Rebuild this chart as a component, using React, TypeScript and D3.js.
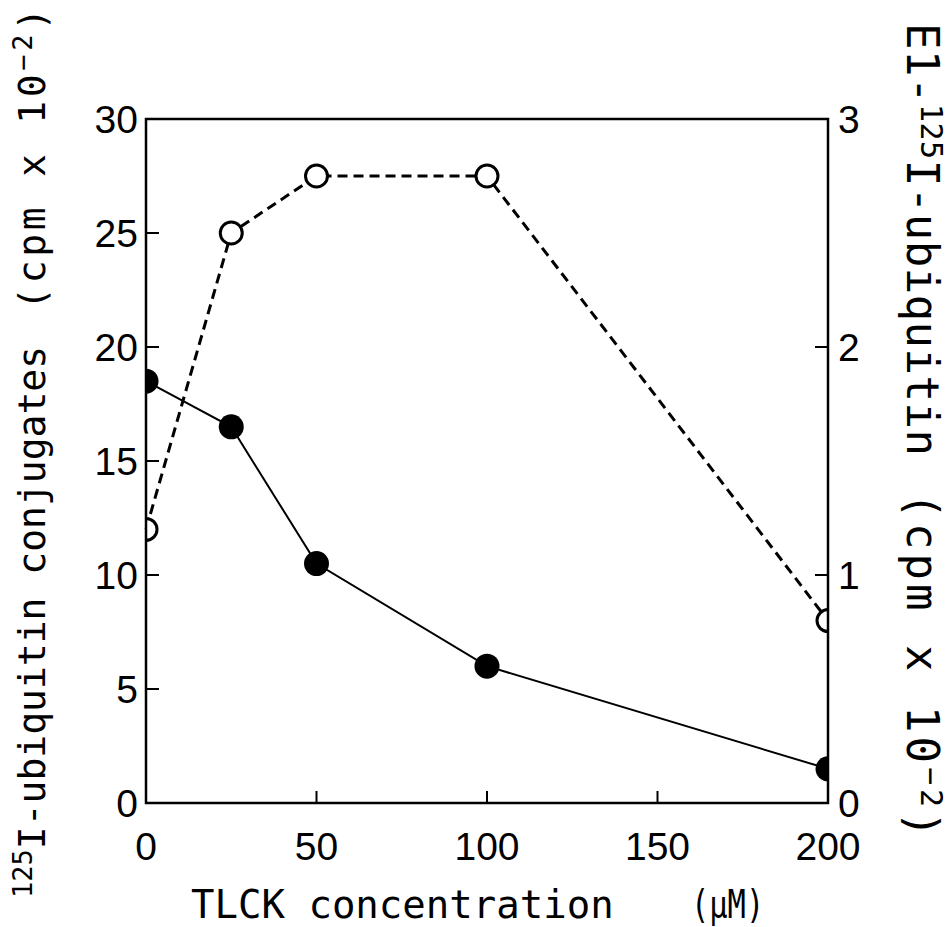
import React from "react";
import * as d3 from "d3";

const concentrations = [0, 25, 50, 100, 200];
const conjugates = [18.5, 16.5, 10.5, 6, 1.5];
const e1Ubiquitin = [1.2, 2.5, 2.75, 2.75, 0.8];
const xTicks = [0, 50, 100, 150, 200];
const leftTicks = [0, 5, 10, 15, 20, 25, 30];
const rightTicks = [0, 1, 2, 3];

const W = 951;
const H = 927;
const M = { left: 146, right: 828, top: 119, bottom: 803 };

export default function App() {
  const x = d3.scaleLinear().domain([0, 200]).range([M.left, M.right]);
  const yL = d3.scaleLinear().domain([0, 30]).range([M.bottom, M.top]);
  const yR = d3.scaleLinear().domain([0, 3]).range([M.bottom, M.top]);

  const closedPts = concentrations.map((c, i) => [x(c), yL(conjugates[i])] as [number, number]);
  const openPts = concentrations.map((c, i) => [x(c), yR(e1Ubiquitin[i])] as [number, number]);
  const line = d3.line();

  const tickFont = "'Liberation Sans', Arial, sans-serif";
  const monoFont = "'DejaVu Sans Mono', monospace";
  const pre = { whiteSpace: "pre" } as React.CSSProperties;
  const ls = (v: number) => ({ letterSpacing: `${v}px` } as React.CSSProperties);

  return (
    <svg width={W} height={H} style={{ position: "absolute", left: 0, top: 0, background: "#fff" }}>
      <defs>
        <clipPath id="plotClip">
          <rect x={M.left} y={M.top - 20} width={M.right - M.left} height={M.bottom - M.top + 40} />
        </clipPath>
      </defs>
      <rect x={0} y={0} width={W} height={H} fill="#fff" />

      {/* lines */}
      <path d={line(closedPts) || ""} fill="none" stroke="#000" strokeWidth={2} />
      <path d={line(openPts) || ""} fill="none" stroke="#000" strokeWidth={3} strokeDasharray="10 6" />

      {/* markers */}
      <g clipPath="url(#plotClip)">
        {closedPts.map((p, i) => (
          <circle key={"c" + i} cx={p[0]} cy={p[1]} r={12.5} fill="#000" />
        ))}
        {openPts.map((p, i) => (
          <circle key={"o" + i} cx={p[0]} cy={p[1]} r={11} fill="#fff" stroke="#000" strokeWidth={3} />
        ))}
      </g>

      {/* frame */}
      <rect x={M.left} y={M.top} width={M.right - M.left} height={M.bottom - M.top} fill="none" stroke="#000" strokeWidth={2.5} />

      {/* x ticks */}
      {xTicks.map((t) => (
        <g key={"x" + t}>
          <line x1={x(t)} x2={x(t)} y1={M.bottom} y2={M.bottom - 12} stroke="#000" strokeWidth={2} />
          <text x={x(t)} y={860} textAnchor="middle" fontFamily={tickFont} fontSize={39} fill="#000">
            {t}
          </text>
        </g>
      ))}

      {/* left ticks */}
      {leftTicks.map((t) => (
        <g key={"l" + t}>
          <line x1={M.left} x2={M.left + 13} y1={yL(t)} y2={yL(t)} stroke="#000" strokeWidth={2} />
          <text x={138} y={yL(t) + 14} textAnchor="end" fontFamily={tickFont} fontSize={39} fill="#000">
            {t}
          </text>
        </g>
      ))}

      {/* right ticks */}
      {rightTicks.map((t) => (
        <g key={"r" + t}>
          <line x1={M.right} x2={M.right - 13} y1={yR(t)} y2={yR(t)} stroke="#000" strokeWidth={2} />
          <text x={838} y={yR(t) + 14} textAnchor="start" fontFamily={tickFont} fontSize={39} fill="#000">
            {t}
          </text>
        </g>
      ))}

      {/* x title */}
      <text x={191} y={918} fontFamily={monoFont} fontSize={39} fill="#000" style={pre}>
        {"TLCK concentration"}
      </text>
      <text transform="translate(691,918) scale(0.78,1)" fontFamily={monoFont} fontSize={39} fill="#000">
        {"(\u03BCM)"}
      </text>

      {/* left title */}
      <text
        transform="translate(45,898) rotate(-90)"
        fontFamily={monoFont}
        fontSize={38}
        fill="#000"
        style={pre}
      >
        <tspan fontSize={27} dy={-13}>125</tspan>
        <tspan dy={13}>{"I-ubiquitin conjugates"}</tspan>
        <tspan dx={36} style={ls(3.7)}>{"(cpm x 10"}</tspan>
        <tspan fontSize={27} dy={-13} style={ls(3.7)}>{"\u22122"}</tspan>
        <tspan dy={13}>)</tspan>
      </text>

      {/* right title */}
      <text
        transform="translate(907,23) rotate(90)"
        fontFamily={monoFont}
        fontSize={44}
        fill="#000"
        style={pre}
      >
        <tspan style={ls(0.5)}>E1-</tspan>
        <tspan fontSize={30} dy={-14} style={ls(0.5)}>125</tspan>
        <tspan dy={14} style={ls(0.5)}>{"I-ubiquitin"}</tspan>
        <tspan dx={36} style={ls(4)}>{"(cpm x 10"}</tspan>
        <tspan fontSize={30} dy={-14} style={ls(4)}>{"\u22122"}</tspan>
        <tspan dy={14}>)</tspan>
      </text>
    </svg>
  );
}
